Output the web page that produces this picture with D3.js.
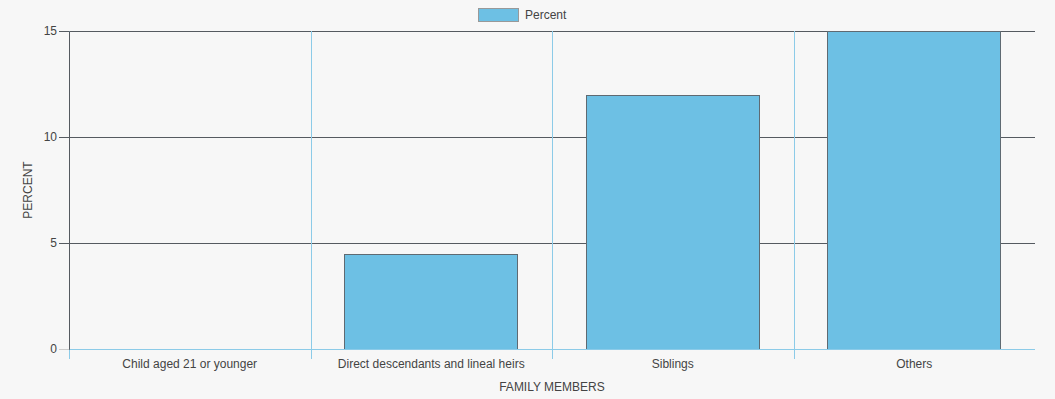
<!DOCTYPE html>
<html>
<head>
<meta charset="utf-8">
<script src="https://cdn.jsdelivr.net/npm/d3@7"></script>
<style>
  body { margin: 0; background: #f7f7f7; }
  svg { display: block; font-family: "Helvetica Neue", Helvetica, "Liberation Sans", Arial, sans-serif; }
</style>
</head>
<body>
<div id="chart"></div>
<script>
// chart data
const categories = ["Child aged 21 or younger", "Direct descendants and lineal heirs", "Siblings", "Others"];
const percent = [0, 4.5, 12, 15];
const yTicks = [0, 5, 10, 15];
const seriesName = "Percent";

const margin = { top: 31, right: 20, bottom: 50, left: 69 },
      width = 1055 - margin.left - margin.right,
      height = 399 - margin.top - margin.bottom;

const svg = d3.select("#chart").append("svg")
    .attr("width", width + margin.left + margin.right)
    .attr("height", height + margin.top + margin.bottom)
    .style("background", "#f7f7f7");

const g = svg.append("g")
    .attr("transform", `translate(${margin.left},${margin.top})`);

const xScale = d3.scaleBand()
    .domain(categories)
    .range([0, width]);

const yScale = d3.scaleLinear()
    .domain([0, 15])
    .range([height, 0]);

const barW = xScale.bandwidth() * 0.716;

// horizontal grid lines
g.selectAll(".hgrid")
    .data(yTicks.filter(d => d > 0))
    .enter().append("line")
    .attr("x1", 0).attr("x2", width)
    .attr("y1", d => yScale(d) + 0.5).attr("y2", d => yScale(d) + 0.5)
    .attr("stroke", "#555a60")
    .attr("stroke-width", 1);

// vertical category dividers
g.selectAll(".vgrid")
    .data(categories)
    .enter().append("line")
    .attr("x1", d => Math.round(xScale(d)) + 0.5)
    .attr("x2", d => Math.round(xScale(d)) + 0.5)
    .attr("y1", 0).attr("y2", height + 10)
    .attr("stroke", "#8ccbe8")
    .attr("stroke-width", 1);

// bars
g.selectAll(".bar")
    .data(percent)
    .enter().append("rect")
    .attr("class", "bar")
    .attr("x", (d, i) => Math.floor(xScale(categories[i]) + (xScale.bandwidth() - barW) / 2) + 0.5)
    .attr("y", d => Math.round(yScale(d)) + 0.5)
    .attr("width", Math.round(barW))
    .attr("height", d => height - Math.round(yScale(d)))
    .attr("fill", "#6dc0e4")
    .attr("stroke", "#5f6a72")
    .attr("stroke-width", 1)
    .style("display", d => d > 0 ? null : "none");

// x axis baseline
g.append("line")
    .attr("x1", 0).attr("x2", width)
    .attr("y1", height + 0.5).attr("y2", height + 0.5)
    .attr("stroke", "#8ccbe8");

// y axis
const yAxis = g.append("g")
    .call(d3.axisLeft(yScale).tickValues(yTicks).tickSize(10).tickPadding(2));
yAxis.select(".domain").attr("stroke", "#555a60");
yAxis.selectAll(".tick line").attr("stroke", d => d === 0 ? "#cccccc" : "#555a60");
yAxis.selectAll(".tick text")
    .attr("fill", "#444")
    .style("font-size", "12px")
    .style("font-family", "inherit");

// x tick labels
g.selectAll(".xlabel")
    .data(categories)
    .enter().append("text")
    .attr("x", d => xScale(d) + xScale.bandwidth() / 2)
    .attr("y", height + 19)
    .attr("text-anchor", "middle")
    .attr("fill", "#444")
    .style("font-size", "12px")
    .text(d => d);

// axis titles
svg.append("text")
    .attr("x", margin.left + width / 2)
    .attr("y", 391)
    .attr("text-anchor", "middle")
    .attr("fill", "#444")
    .style("font-size", "12px")
    .text("FAMILY MEMBERS");

svg.append("text")
    .attr("transform", "rotate(-90)")
    .attr("x", -(margin.top + height / 2))
    .attr("y", 32)
    .attr("text-anchor", "middle")
    .attr("fill", "#444")
    .style("font-size", "12px")
    .text("PERCENT");

// legend
svg.append("rect")
    .attr("x", 478.5).attr("y", 8.5)
    .attr("width", 40).attr("height", 13)
    .attr("fill", "#6dc0e4")
    .attr("stroke", "#999");

svg.append("text")
    .attr("x", 525).attr("y", 19)
    .attr("fill", "#444")
    .style("font-size", "12px")
    .text(seriesName);
</script>
</body>
</html>
